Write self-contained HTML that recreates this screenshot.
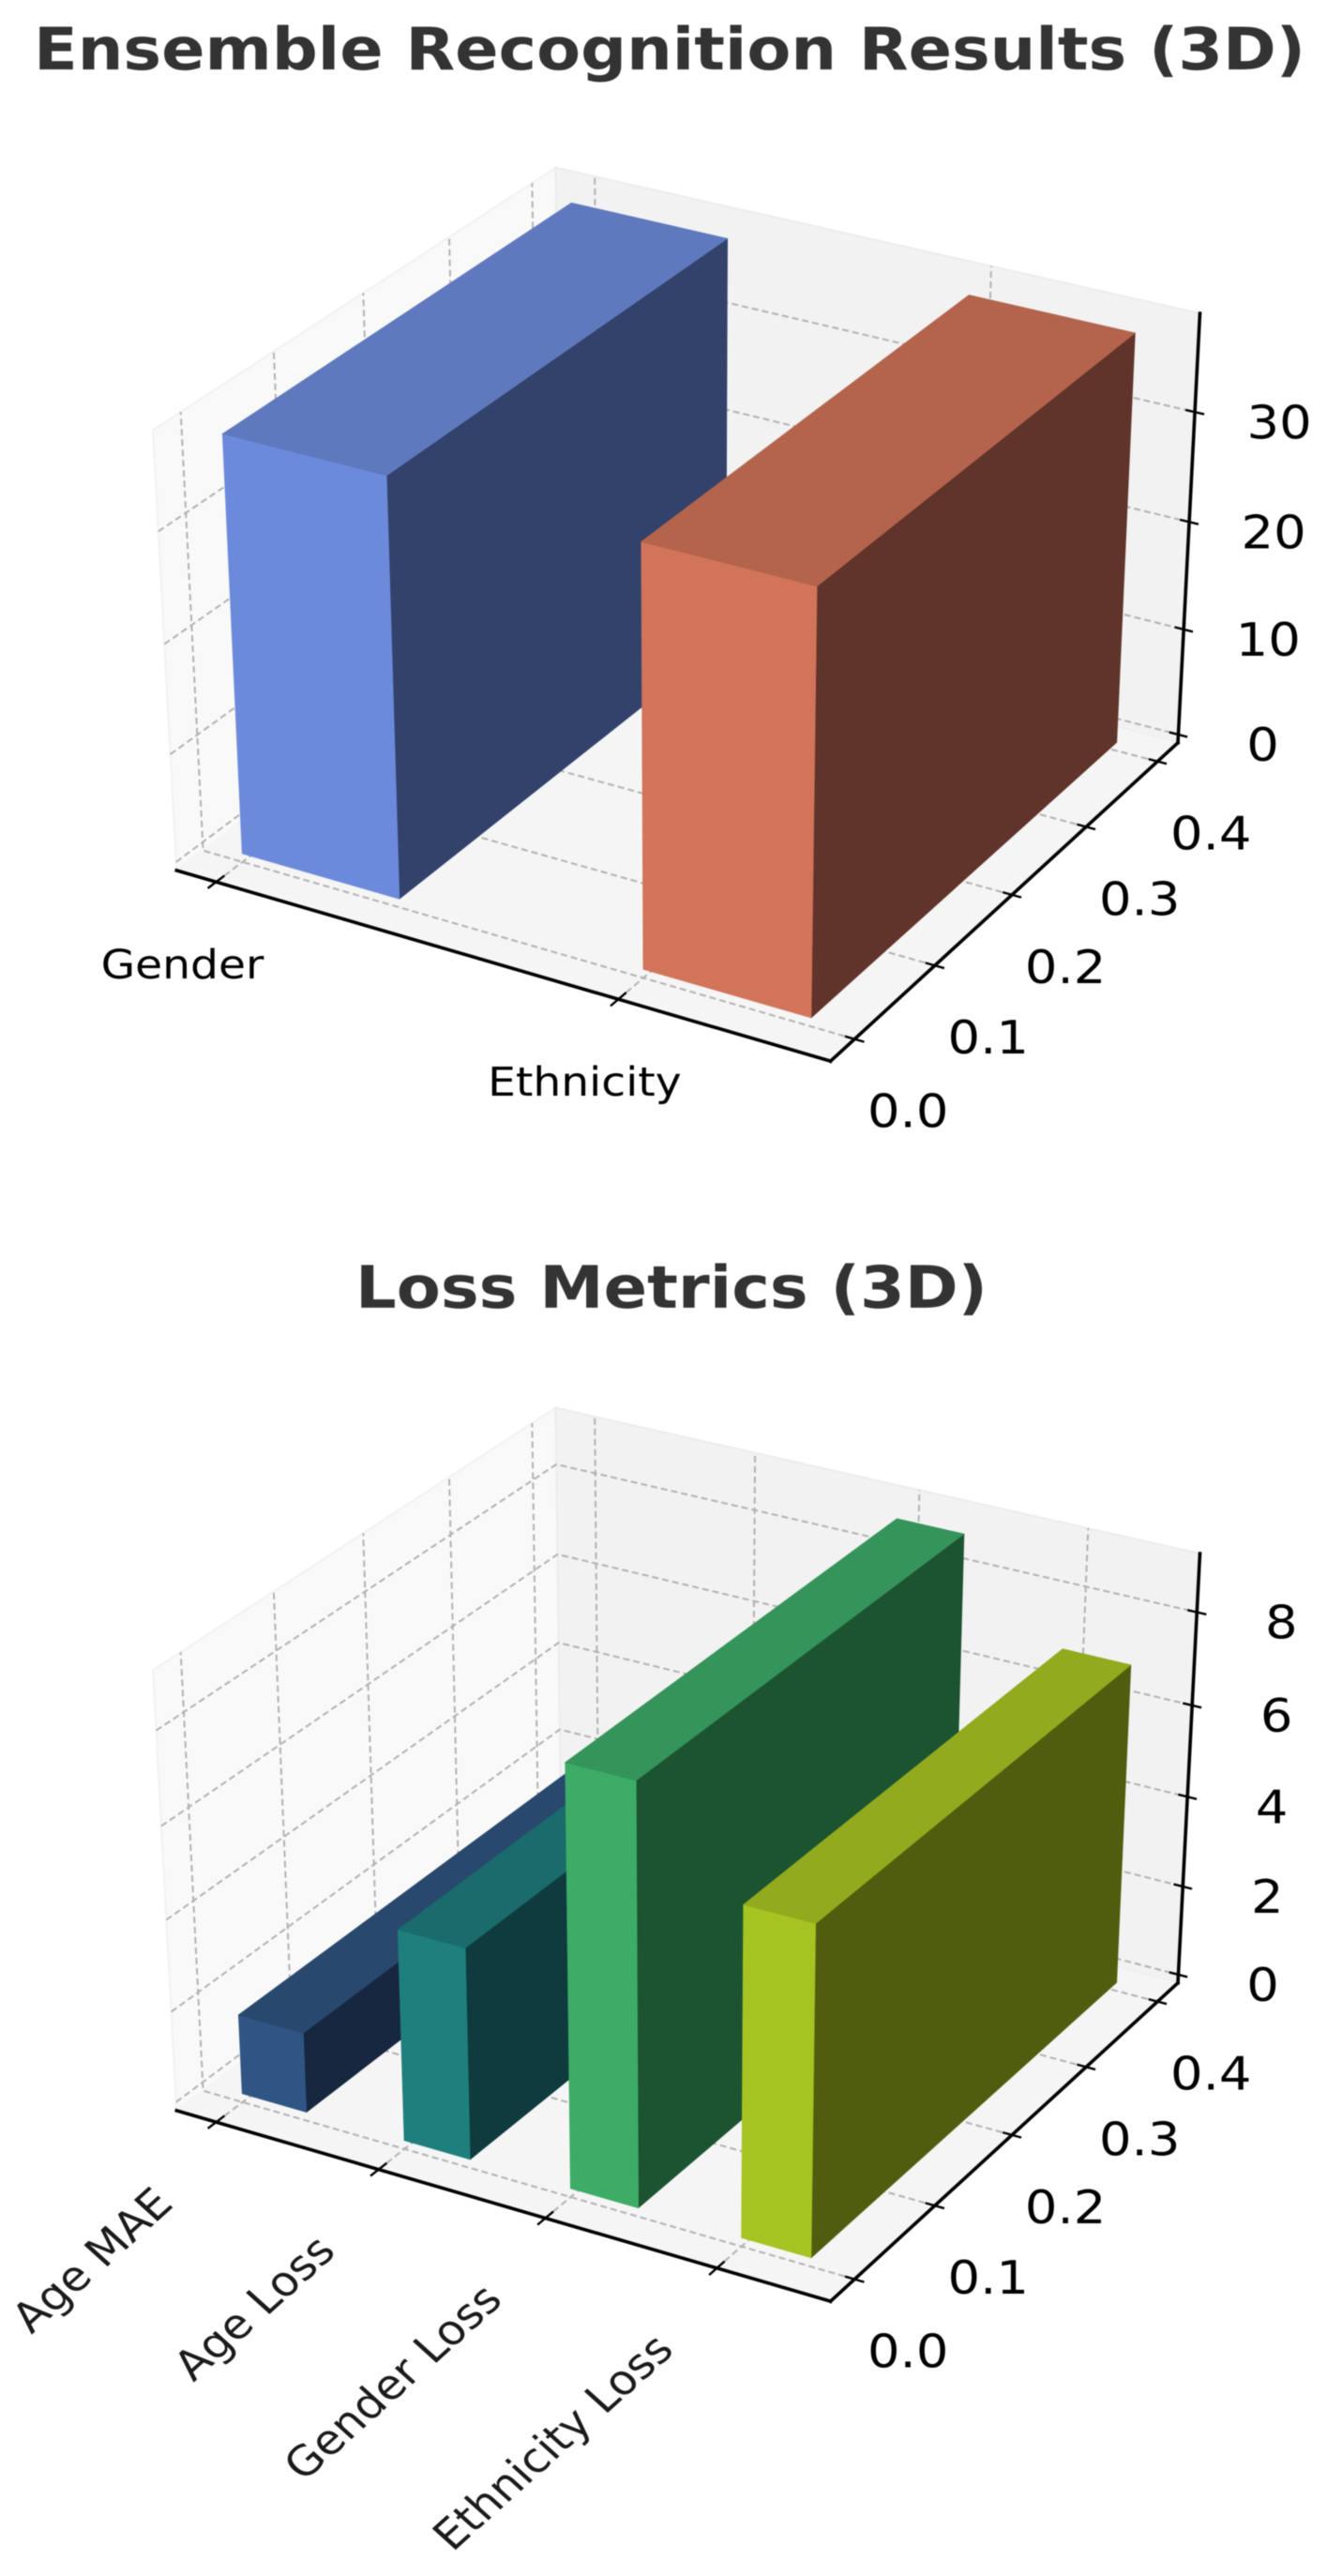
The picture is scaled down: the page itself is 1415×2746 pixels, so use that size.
<!DOCTYPE html>
<html lang="en">
<head>
<meta charset="utf-8">
<title>Ensemble Recognition Results and Loss Metrics (3D)</title>
<style>
html,body{margin:0;padding:0;background:#fff;}
svg{display:block;filter:blur(0.5px);}
text{font-family:"DejaVu Sans","Liberation Sans",sans-serif;}
</style>
</head>
<body>
<svg id="figure" xmlns="http://www.w3.org/2000/svg" width="1415" height="2746" viewBox="0 0 1415 2746">
  <text x="36" y="74" font-size="62" font-weight="700" fill="#333333" textLength="1356" lengthAdjust="spacingAndGlyphs">Ensemble Recognition Results (3D)</text>
  <text x="379" y="1394" font-size="62" font-weight="700" fill="#333333" textLength="674" lengthAdjust="spacingAndGlyphs">Loss Metrics (3D)</text>
  <g id="ensemble-chart"></g>
  <g id="loss-chart"></g>
</svg>
<script>
// ---- chart data ----
const ensembleCategories = ['Gender', 'Ethnicity'];
const ensembleValues = [37.8, 37.7];
const ensembleZTicks = [0, 10, 20, 30];
const ensembleZTickLabels = ['0', '10', '20', '30'];
const ensembleZDomain = [-0.79, 38.79];
const ensembleXDomain = [-0.102, 1.502];

const lossCategories = ['Age MAE', 'Age Loss', 'Gender Loss', 'Ethnicity Loss'];
const lossValues = [1.75, 4.58, 8.98, 7.03];
const lossZTicks = [0, 2, 4, 6, 8];
const lossZTickLabels = ['0', '2', '4', '6', '8'];
const lossZDomain = [-0.19, 9.24];
const lossXDomain = [-0.248, 3.648];

const depthTicks = [0, 0.1, 0.2, 0.3, 0.4];
const depthTickLabels = ['0.0', '0.1', '0.2', '0.3', '0.4'];
const depthDomain = [-0.0292, 0.4292];
const barSpanX = 0.4;
const barSpanY = 0.4;

// ---- styling ----
const ensembleFaceColors = [
  {front: '#6c8adb', top: '#5f79bf', side: '#33426b'},
  {front: '#d2745a', top: '#b4644c', side: '#60342a'}
];
const lossFaceColors = [
  {front: '#2f5584', top: '#28486e', side: '#16273f'},
  {front: '#1e7f7c', top: '#196c6b', side: '#0f3b3e'},
  {front: '#3dac66', top: '#349459', side: '#1c5331'},
  {front: '#a5c422', top: '#92aa1d', side: '#505d0e'}
];
const SVG_NS = 'http://www.w3.org/2000/svg';
const TEXT_STRETCH = 1.11;

// ---- camera (elev 30, azim -60, dist 10) ----
const BOX = [1.1905, 1.1905, 0.893];
const DIST = 10;
const U = [0.8660, 0.5, 0];
const V = [-0.25, 0.4330, 0.8660];
const W = [0.4330, -0.75, 0.5];
const SCALE_X = 6710;
const SCALE_Y = 5990;
const ORIGIN_X = 732;

function dot(a, b) {
  return a[0] * b[0] + a[1] * b[1] + a[2] * b[2];
}

function makeProjector(originY) {
  return function (fx, fy, fz) {
    const q = [(fx - 0.5) * BOX[0], (fy - 0.5) * BOX[1], (fz - 0.5) * BOX[2]];
    const depth = DIST - dot(q, W);
    return [ORIGIN_X + SCALE_X * dot(q, U) / depth, originY - SCALE_Y * dot(q, V) / depth];
  };
}

function linearScale(domain) {
  return function (v) {
    return (v - domain[0]) / (domain[1] - domain[0]);
  };
}

function make(parent, tag, attrs) {
  const el = document.createElementNS(SVG_NS, tag);
  for (const k in attrs) el.setAttribute(k, attrs[k]);
  parent.appendChild(el);
  return el;
}

function toPoints(list) {
  return list.map(function (p) { return p[0].toFixed(1) + ',' + p[1].toFixed(1); }).join(' ');
}

function slug(s) {
  return s.toLowerCase().replace(/[^a-z0-9]+/g, '-');
}

function drawChart(root, cfg) {
  const P = makeProjector(cfg.originY);
  const sx = linearScale(cfg.xDomain);
  const sy = linearScale(depthDomain);
  const sz = linearScale(cfg.zDomain);
  const gridStyle = {fill: 'none', stroke: '#b2b2b2', 'stroke-width': 2, 'stroke-dasharray': '7 4'};

  // panes
  const leftPane = make(root, 'polygon', {points: toPoints([P(0,0,0), P(0,1,0), P(0,1,1), P(0,0,1)]), fill: '#f9f9f9', stroke: '#f2f2f2', 'stroke-width': 2});
  
  
  const backPane = make(root, 'polygon', {points: toPoints([P(0,1,0), P(1,1,0), P(1,1,1), P(0,1,1)]), fill: '#f2f2f2', stroke: '#ececec', 'stroke-width': 2});
  
  
  const floorPane = make(root, 'polygon', {points: toPoints([P(0,0,0), P(1,0,0), P(1,1,0), P(0,1,0)]), fill: '#f5f5f5'});
  
  

  // grid
  cfg.categories.forEach(function (c, i) {
    const f = sx(i);
    const line = make(root, 'polyline', Object.assign({points: toPoints([P(f,0,0), P(f,1,0), P(f,1,1)])}, gridStyle));
    
    
  });
  depthTicks.forEach(function (t) {
    const f = sy(t);
    const line = make(root, 'polyline', Object.assign({points: toPoints([P(1,f,0), P(0,f,0), P(0,f,1)])}, gridStyle));
    
    
  });
  cfg.zTicks.forEach(function (t) {
    const f = sz(t);
    const line = make(root, 'polyline', Object.assign({points: toPoints([P(0,0,f), P(0,1,f), P(1,1,f)])}, gridStyle));
    
    
  });

  // bars
  const y0 = sy(0);
  const y1 = sy(barSpanY);
  const zb = sz(0);
  cfg.values.forEach(function (value, i) {
    const x0 = sx(i);
    const x1 = sx(i + barSpanX);
    const zt = sz(value);
    const colors = cfg.colors[i];
    const name = 'bar-' + slug(cfg.categories[i]);
    const bar = make(root, 'g', {});
    
    
    const side = make(bar, 'polygon', {points: toPoints([P(x1,y0,zb), P(x1,y1,zb), P(x1,y1,zt), P(x1,y0,zt)]), fill: colors.side, stroke: colors.side, 'stroke-width': 0.6});
    
    
    const front = make(bar, 'polygon', {points: toPoints([P(x0,y0,zb), P(x1,y0,zb), P(x1,y0,zt), P(x0,y0,zt)]), fill: colors.front, stroke: colors.front, 'stroke-width': 0.6});
    
    
    const top = make(bar, 'polygon', {points: toPoints([P(x0,y0,zt), P(x1,y0,zt), P(x1,y1,zt), P(x0,y1,zt)]), fill: colors.top, stroke: colors.top, 'stroke-width': 0.6});
    
    
  });

  // axis lines
  function axisLine(a, b, name) {
    const l = make(root, 'line', {x1: a[0], y1: a[1], x2: b[0], y2: b[1], stroke: '#000', 'stroke-width': 3.6, 'stroke-linecap': 'square'});
    
    
  }
  axisLine(P(0,0,0), P(1,0,0), 'x-axis-line');
  axisLine(P(1,0,0), P(1,1,0), 'y-axis-line');
  axisLine(P(1,1,0), P(1,1,1), 'z-axis-line');

  function tickMark(a, b, name) {
    const l = make(root, 'line', {x1: a[0], y1: a[1], x2: b[0], y2: b[1], stroke: '#000', 'stroke-width': 2.4});
    
    
  }

  function tickLabel(str, cx, baseline, size, name) {
    const t = make(root, 'text', {'text-anchor': 'middle', 'font-size': size, fill: '#000', transform: 'translate(' + cx.toFixed(1) + ' ' + baseline.toFixed(1) + ') scale(' + TEXT_STRETCH + ' 1)'});
    t.textContent = str;
    
    
  }

  // x ticks and category labels
  cfg.categories.forEach(function (c, i) {
    const f = sx(i);
    tickMark(P(f,-0.02,0), P(f,0.02,0), 'x-tick');
    const at = P(f,0,0);
    const name = 'x-label-' + slug(c);
    if (cfg.rotateLabels) {
      const t = make(root, 'text', {'text-anchor': 'end', 'font-size': 44, fill: '#1a1a1a', transform: 'translate(' + (at[0] - 44).toFixed(1) + ' ' + (at[1] + 89).toFixed(1) + ') scale(' + TEXT_STRETCH + ' 1) rotate(-45)'});
      t.textContent = c;
      
      
    } else {
      tickLabel(c, at[0] - 36, at[1] + 103, 42.5, name);
    }
  });

  // y ticks and labels (ticks sit on the front-right edge)
  depthTicks.forEach(function (t, i) {
    const f = sy(t);
    tickMark(P(0.986,f,0), P(1.014,f,0), 'y-tick');
    const at = P(1,f,0);
    tickLabel(depthTickLabels[i], at[0] + 57, at[1] + 94, 49, 'y-label-' + depthTickLabels[i]);
  });

  // z ticks and labels
  cfg.zTicks.forEach(function (t, i) {
    const f = sz(t);
    tickMark(P(0.986,1,f), P(1.014,1,f), 'z-tick');
    const at = P(1,1,f);
    tickLabel(cfg.zTickLabels[i], at[0] + 90, at[1] + 28, 49, 'z-label-' + cfg.zTickLabels[i]);
  });
}

drawChart(document.getElementById('ensemble-chart'), {
  originY: 632,
  categories: ensembleCategories,
  values: ensembleValues,
  zTicks: ensembleZTicks,
  zTickLabels: ensembleZTickLabels,
  zDomain: ensembleZDomain,
  xDomain: ensembleXDomain,
  colors: ensembleFaceColors,
  rotateLabels: false
});
drawChart(document.getElementById('loss-chart'), {
  originY: 1954,
  categories: lossCategories,
  values: lossValues,
  zTicks: lossZTicks,
  zTickLabels: lossZTickLabels,
  zDomain: lossZDomain,
  xDomain: lossXDomain,
  colors: lossFaceColors,
  rotateLabels: true
});
</script>
</body>
</html>
